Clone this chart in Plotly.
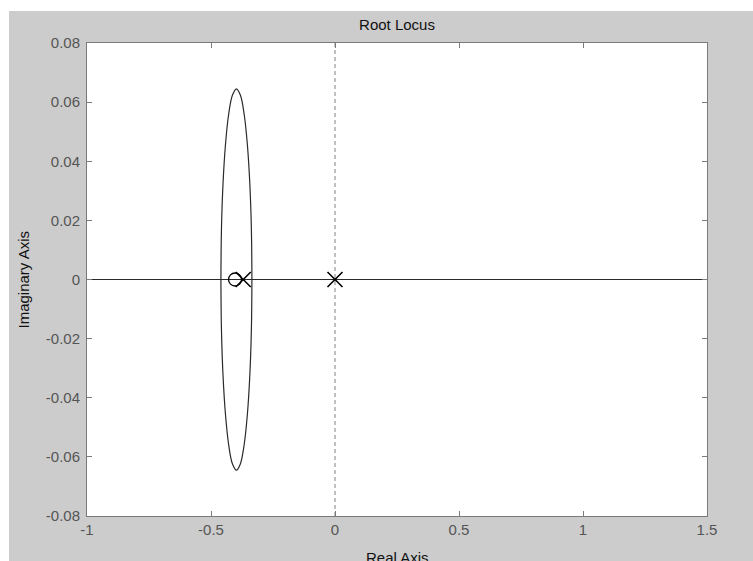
import plotly.graph_objects as go

# --- data ---
title_text = "Root Locus"
x_title = "Real Axis"
y_title = "Imaginary Axis"

x_ticks = [-1, -0.5, 0, 0.5, 1, 1.5]
x_tick_labels = ["-1", "-0.5", "0", "0.5", "1", "1.5"]
y_ticks = [-0.08, -0.06, -0.04, -0.02, 0, 0.02, 0.04, 0.06, 0.08]
y_tick_labels = ["-0.08", "-0.06", "-0.04", "-0.02", "0", "0.02", "0.04", "0.06", "0.08"]

# upper complex branch (break-away -> break-in)
upper_x = [-0.335, -0.3371, -0.3434, -0.3533, -0.3663, -0.3813, -0.3975,
           -0.4137, -0.4288, -0.4417, -0.4516, -0.4579, -0.460]
upper_y = [0.0, 0.0167, 0.0323, 0.0456, 0.0559, 0.0623, 0.0645,
           0.0623, 0.0559, 0.0456, 0.0323, 0.0167, 0.0]
# lower complex branch
lower_x = [-0.335, -0.3371, -0.3434, -0.3533, -0.3663, -0.3813, -0.3975,
           -0.4137, -0.4288, -0.4417, -0.4516, -0.4579, -0.460]
lower_y = [0.0, -0.0167, -0.0323, -0.0456, -0.0559, -0.0623, -0.0645,
           -0.0623, -0.0559, -0.0456, -0.0323, -0.0167, 0.0]
# real-axis branch
real_x = [-1.0, 1.5]
real_y = [0.0, 0.0]

poles_x = [0.0, -0.37]
poles_y = [0.0, 0.0]
zeros_x = [-0.403]
zeros_y = [0.0]

x_range = [-1, 1.5]
y_range = [-0.08, 0.08]

# --- figure ---
fig = go.Figure()
line_col = "#2a2a2a"
fig.add_trace(go.Scatter(x=real_x, y=real_y, mode="lines",
                         line=dict(color=line_col, width=1.2), showlegend=False))
fig.add_trace(go.Scatter(x=upper_x, y=upper_y, mode="lines",
                         line=dict(color=line_col, width=1.2, shape="spline"), showlegend=False))
fig.add_trace(go.Scatter(x=lower_x, y=lower_y, mode="lines",
                         line=dict(color=line_col, width=1.2, shape="spline"), showlegend=False))
# imaginary axis dashed line
fig.add_trace(go.Scatter(x=[0, 0], y=y_range, mode="lines",
                         line=dict(color="#808080", width=1, dash="4px,3px"), showlegend=False))
fig.add_trace(go.Scatter(x=zeros_x, y=zeros_y, mode="markers",
                         marker=dict(symbol="circle-open", size=13, color="black",
                                     line=dict(width=1.3, color="black")), showlegend=False))
fig.add_trace(go.Scatter(x=poles_x, y=poles_y, mode="markers",
                         marker=dict(symbol="x-thin-open", size=15, color="black",
                                     line=dict(width=1.6, color="black")), showlegend=False))

tick_font = dict(family="Liberation Sans, Arial, sans-serif", size=15, color="#555555")
axis_common = dict(showgrid=False, zeroline=False, showline=True, linecolor="#7a7a7a",
                   linewidth=1, mirror="ticks", ticks="inside", ticklen=5,
                   tickcolor="#7a7a7a", tickfont=tick_font)

fig.update_xaxes(range=x_range, tickvals=x_ticks, ticktext=x_tick_labels, **axis_common)
fig.update_yaxes(range=y_range, tickvals=y_ticks, ticktext=y_tick_labels,
                 ticklabelstandoff=3, **axis_common)

title_font = dict(family="Liberation Sans, Arial, sans-serif", size=15, color="#111111")
fig.update_layout(
    width=753, height=561,
    margin=dict(l=87, r=46, t=43, b=45),
    paper_bgcolor="#cccccc", plot_bgcolor="white",
    title=dict(text=title_text, x=0.5, xanchor="center", xref="paper",
               y=1 - 25 / 561, yref="container", yanchor="middle", font=title_font),
    annotations=[
        dict(text=x_title, x=0.5, y=0, xref="paper", yref="paper",
             xanchor="center", yanchor="middle", yshift=-41, showarrow=False, font=title_font),
        dict(text=y_title, x=0, y=0.5, xref="paper", yref="paper",
             xanchor="center", yanchor="middle", xshift=-64, textangle=-90,
             showarrow=False, font=title_font),
    ],
    shapes=[
        dict(type="rect", xref="paper", yref="paper", xsizemode="pixel", xanchor=0,
             x0=-87, x1=-78, y0=-0.3, y1=1.3, fillcolor="white", line=dict(width=0),
             layer="above"),
        dict(type="rect", xref="paper", yref="paper", ysizemode="pixel", yanchor=1,
             y0=32, y1=44, x0=-0.3, x1=1.3, fillcolor="white", line=dict(width=0),
             layer="above"),
    ],
)

fig.write_html("out.html")
